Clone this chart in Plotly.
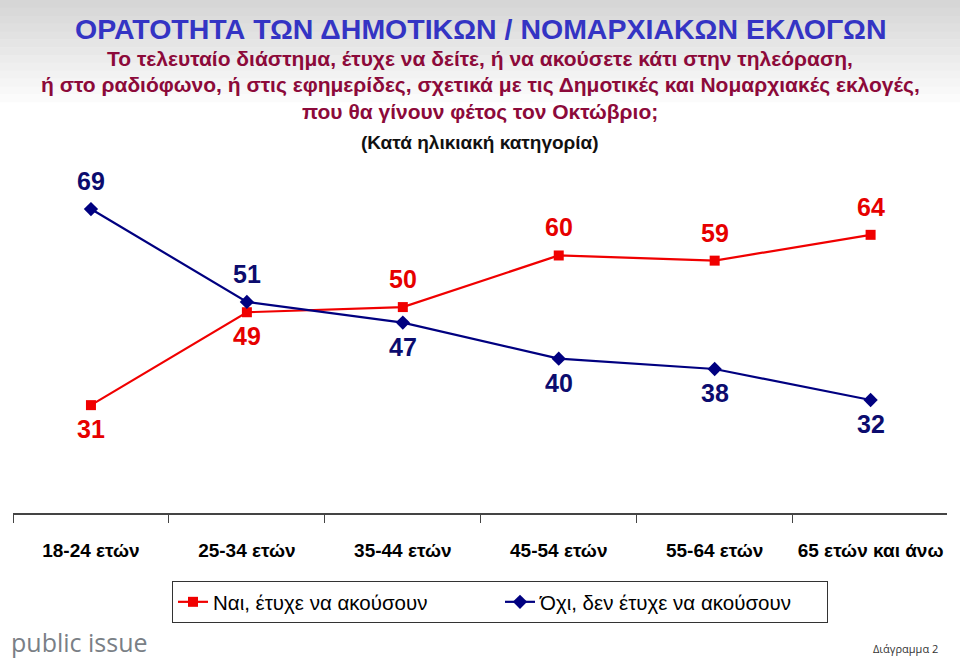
import plotly.graph_objects as go

categories = ["18-24 ετών", "25-34 ετών", "35-44 ετών", "45-54 ετών", "55-64 ετών", "65 ετών και άνω"]
yes_values = [31, 49, 50, 60, 59, 64]
no_values = [69, 51, 47, 40, 38, 32]
yes_name = "Ναι, έτυχε να ακούσουν"
no_name = "Όχι, δεν έτυχε να ακούσουν"

title_text = "ΟΡΑΤΟΤΗΤΑ ΤΩΝ ΔΗΜΟΤΙΚΩΝ / ΝΟΜΑΡΧΙΑΚΩΝ ΕΚΛΟΓΩΝ"
subtitle_lines = [
    "Το τελευταίο διάστημα, έτυχε να δείτε, ή να ακούσετε κάτι στην τηλεόραση,",
    "ή στο ραδιόφωνο, ή στις εφημερίδες, σχετικά με τις Δημοτικές και Νομαρχιακές εκλογές,",
    "που θα γίνουν φέτος τον Οκτώβριο;",
]
note_text = "(Κατά ηλικιακή κατηγορία)"

# label side: +1 above the point, -1 below
yes_side = [-1, -1, 1, 1, 1, 1]
no_side = [1, 1, -1, -1, -1, -1]

RED = "#f00000"
BLUE = "#000080"
SANS = "Liberation Sans, Arial, sans-serif"

# pixel geometry of plot area
TOP_PX, BOT_PX = 160, 513
H = BOT_PX - TOP_PX


def py(px):
    return (BOT_PX - px) / H


fig = go.Figure()
fig.add_trace(go.Scatter(
    x=categories, y=yes_values, name=yes_name, mode="lines+markers",
    line=dict(color=RED, width=2.2),
    marker=dict(symbol="square", size=10, color=RED),
))
fig.add_trace(go.Scatter(
    x=categories, y=no_values, name=no_name, mode="lines+markers",
    line=dict(color=BLUE, width=2.2),
    marker=dict(symbol="diamond", size=11, color=BLUE),
))

annotations = []
for cat, v, s in zip(categories, yes_values, yes_side):
    annotations.append(dict(x=cat, y=v, xref="x", yref="y", text=str(v), showarrow=False,
                            yshift=28 if s > 0 else -24,
                            font=dict(family=SANS, size=25, color="#e60000", weight="bold")))
for cat, v, s in zip(categories, no_values, no_side):
    annotations.append(dict(x=cat, y=v, xref="x", yref="y", text=str(v), showarrow=False,
                            yshift=28 if s > 0 else -24,
                            font=dict(family=SANS, size=25, color="#0c0c6e", weight="bold")))

annotations.append(dict(x=0.5, y=py(29), xref="paper", yref="paper", text=title_text,
                        showarrow=False, xanchor="center", yanchor="middle",
                        font=dict(family=SANS, size=28.5, color="#3434c4", weight="bold")))
for i, line in enumerate(subtitle_lines):
    annotations.append(dict(x=0.5, y=py(58 + 27 * i), xref="paper", yref="paper", text=line,
                            showarrow=False, xanchor="center", yanchor="middle",
                            font=dict(family=SANS, size=21, color="#8c0a3a", weight="bold")))
annotations.append(dict(x=0.5, y=py(142), xref="paper", yref="paper", text=note_text,
                        showarrow=False, xanchor="center", yanchor="middle",
                        font=dict(family=SANS, size=19, color="#111111", weight="bold")))
annotations.append(dict(x=-4 / 934, y=py(642), xref="paper", yref="paper", text="public issue",
                        showarrow=False, xanchor="left", yanchor="middle",
                        font=dict(family="Open Sans, Lato, sans-serif", size=25, color="#7a7f86")))
annotations.append(dict(x=(940 - 13) / 934, y=py(648), xref="paper", yref="paper", text="Διάγραμμα 2",
                        showarrow=False, xanchor="right", yanchor="middle",
                        font=dict(family="Open Sans, Noto Sans, sans-serif", size=11, color="#333333")))

# gradient header background
shapes = []
n = 14
for i in range(n):
    g = int(214 + (255 - 214) * i / (n - 1))
    y0 = i * 110 / n
    y1 = (i + 1) * 110 / n + 0.5
    shapes.append(dict(type="rect", xref="paper", yref="paper", x0=-0.02, x1=1.02,
                       y0=py(y1), y1=py(y0 - (1 if i == 0 else 0)), line=dict(width=0),
                       fillcolor=f"rgb({g},{g},{g})", layer="below"))

fig.update_layout(
    width=960, height=658,
    margin=dict(l=13, r=13, t=TOP_PX, b=658 - BOT_PX, pad=0, autoexpand=False),
    paper_bgcolor="white", plot_bgcolor="rgba(0,0,0,0)",
    showlegend=True,
    legend=dict(orientation="h", x=(172 - 13) / 934, y=py(581), xanchor="left", yanchor="top",
                bordercolor="#333333", borderwidth=1, bgcolor="white",
                entrywidth=282, entrywidthmode="pixels",
                font=dict(family=SANS, size=20.5, color="#000000")),
    xaxis=dict(type="category", range=[-0.5, 5.49], showline=True, linecolor="#444444", linewidth=1.5,
               ticks="outside", tickson="boundaries", ticklen=8, tickcolor="#444444",
               showgrid=False, zeroline=False, ticklabelstandoff=19, automargin=False, tickangle=0,
               tickfont=dict(family=SANS, size=19, color="#000000", weight="bold")),
    yaxis=dict(range=[10.1, 78.5], visible=False, showgrid=False, zeroline=False, automargin=False),
    annotations=annotations,
    shapes=shapes,
)

fig.write_html(
    "out.html",
    config={"displayModeBar": False},
    post_script="document.documentElement.style.margin='0';document.body.style.margin='0';"
                "document.body.style.overflow='hidden';",
)
